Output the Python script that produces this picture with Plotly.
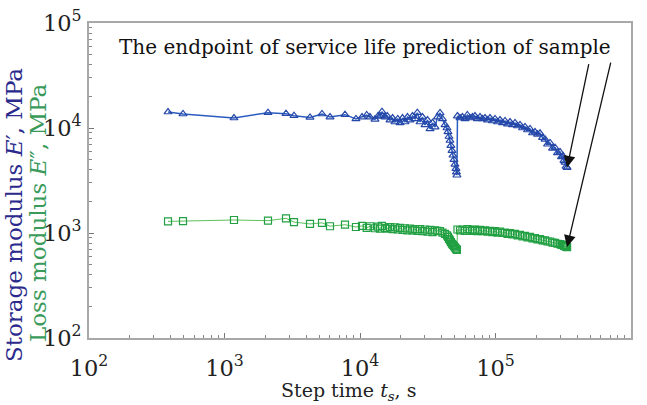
import numpy as np
import plotly.graph_objects as go

# Step time (s)
time_s = [383, 494, 1175, 2094, 2844, 3258, 4276, 5243, 6007, 7748, 9336, 10350, 11200, 11850,
          12900, 13600, 14050, 14520, 15300, 15900, 16650, 17400, 18130, 19000, 19740, 20600,
          21490, 22400, 23390, 24400, 25470, 26500, 27730, 28900, 30190, 31500, 32870, 34300,
          35790, 37300, 38960, 40600, 42410, 43850, 44600, 45400, 46170, 46900, 47740, 48500,
          49370, 50200, 51050, 51500, 51920, 52400, 54680, 57000, 59550, 62000, 64830, 67600,
          70580, 73600, 76850, 80200, 83670, 87300, 91090, 95000, 99180, 103500, 107980, 112700,
          117560, 122700, 127990, 133500, 139350, 145400, 151710, 158300, 165170, 172300, 179830,
          187600, 195790, 204300, 213160, 222400, 232070, 242100, 252660, 263600, 275080, 287000,
          299490, 307000, 315000, 320000, 326060, 332000, 337500]

# Storage modulus E' (MPa)
storage = [14200, 13600, 12450, 14000, 13700, 13100, 12600, 13600, 12700, 13400, 12200, 12700, 13300, 12700,
           12100, 13000, 13000, 14300, 12700, 13000, 11900, 12450, 11400, 12200, 11200, 12450,
           11400, 12700, 11900, 13000, 12200, 14000, 11400, 12700, 10700, 11900, 9800, 11200,
           10200, 12700, 13900, 12200, 10700, 10000, 9200, 8300, 7600, 6800, 6100, 5500,
           5000, 4500, 4100, 3800, 3550, 13000, 12450, 12700, 12200, 13300, 12450, 12700,
           13000, 12200, 12700, 12200, 12450, 11900, 12450, 11660, 12200, 11400, 11900, 11170,
           11660, 10900, 11400, 10700, 11170, 10450, 10700, 10000, 10230, 9570, 9800,
           8960, 9150, 8700, 8900, 8100, 7800, 7000, 7200, 6400, 6500, 5800,
           5900, 5300, 5400, 4900, 4700, 4300, 4200]

# Loss modulus E'' (MPa)
loss = [1290, 1300, 1330, 1310, 1380, 1270, 1220, 1250, 1160, 1200, 1140, 1170, 1120, 1160,
        1110, 1150, 1100, 1170, 1120, 1100, 1140, 1090, 1130, 1080, 1120, 1070,
        1110, 1060, 1100, 1060, 1090, 1050, 1090, 1040, 1080, 1030, 1070, 1020,
        1060, 1050, 1040, 1010, 980, 950, 920, 880, 850, 820, 790, 770,
        750, 730, 710, 700, 690, 1080, 1060, 1080, 1050, 1090, 1050, 1070,
        1080, 1040, 1070, 1040, 1060, 1030, 1050, 1020, 1040, 1010, 1030, 1000,
        1010, 980, 1000, 970, 980, 950, 960, 930, 940, 910, 920,
        890, 895, 870, 875, 850, 850, 830, 830, 810, 805, 790,
        785, 770, 770, 755, 750, 740, 735]

BLUE = "#2447a8"
GREEN = "#22a043"
FONT = "DejaVu Serif"

fig = go.Figure()
fig.add_trace(go.Scatter(
    x=time_s, y=loss, mode="lines+markers",
    line=dict(color="#5cc05c", width=1),
    marker=dict(symbol="square-open", size=7, color=GREEN, line=dict(width=1.2)),
    showlegend=False))
fig.add_trace(go.Scatter(
    x=time_s, y=storage, mode="lines+markers",
    line=dict(color="#2a5cc0", width=1.5),
    marker=dict(symbol="triangle-up-open", size=7, color=BLUE, line=dict(width=1.2)),
    showlegend=False))

axis_common = dict(
    type="log", showgrid=False, zeroline=False, automargin=False,
    showline=True, linecolor="#a8a8a8", linewidth=1.5, mirror=True,
    ticks="inside", ticklen=5, tickcolor="#777", tickwidth=1,
    minor=dict(ticks="inside", ticklen=3, tickcolor="#888", showgrid=False),
    exponentformat="power", dtick=1,
    tickfont=dict(family=FONT, size=18, color="#222"),
)
fig.update_xaxes(range=[2, 6], ticklabelstandoff=10, **axis_common)
fig.update_yaxes(range=[2, 5], ticklabelstandoff=2, **axis_common)


def ann(text, px, py, size, color, angle=0):
    return dict(text=text, xref="paper", yref="paper",
                x=(px - 89) / 542, y=(338 - py) / 315,
                xanchor="center", yanchor="middle", showarrow=False, textangle=angle,
                font=dict(family=FONT, size=size, color=color))


annotations = [
    ann("The endpoint of service life prediction of sample", 365, 47, 20, "#111"),
    ann("Step time <i>t<sub>s</sub></i>, s", 348, 391, 19, "#222"),
    ann("Storage modulus <i>E</i>′, MPa", 14, 215, 23, "#2b2a8c", -90),
    ann("Loss modulus <i>E</i>″, MPa", 38, 213, 23, "#3a9a5a", -90),
    dict(text="", x=np.log10(time_s[-1]), y=np.log10(storage[-1]), xref="x", yref="y",
         showarrow=True, ax=22, ay=-105, arrowhead=2, arrowsize=1.8, arrowwidth=1.3,
         arrowcolor="#111", standoff=0),
    dict(text="", x=np.log10(time_s[-1]), y=np.log10(loss[-1]), xref="x", yref="y",
         showarrow=True, ax=44, ay=-186, arrowhead=2, arrowsize=1.8, arrowwidth=1.3,
         arrowcolor="#111", standoff=0),
]

fig.update_layout(
    width=647, height=405,
    margin=dict(l=89, r=16, t=23, b=67),
    paper_bgcolor="white", plot_bgcolor="white",
    annotations=annotations,
    font=dict(family=FONT),
)
fig.write_html("out.html")
